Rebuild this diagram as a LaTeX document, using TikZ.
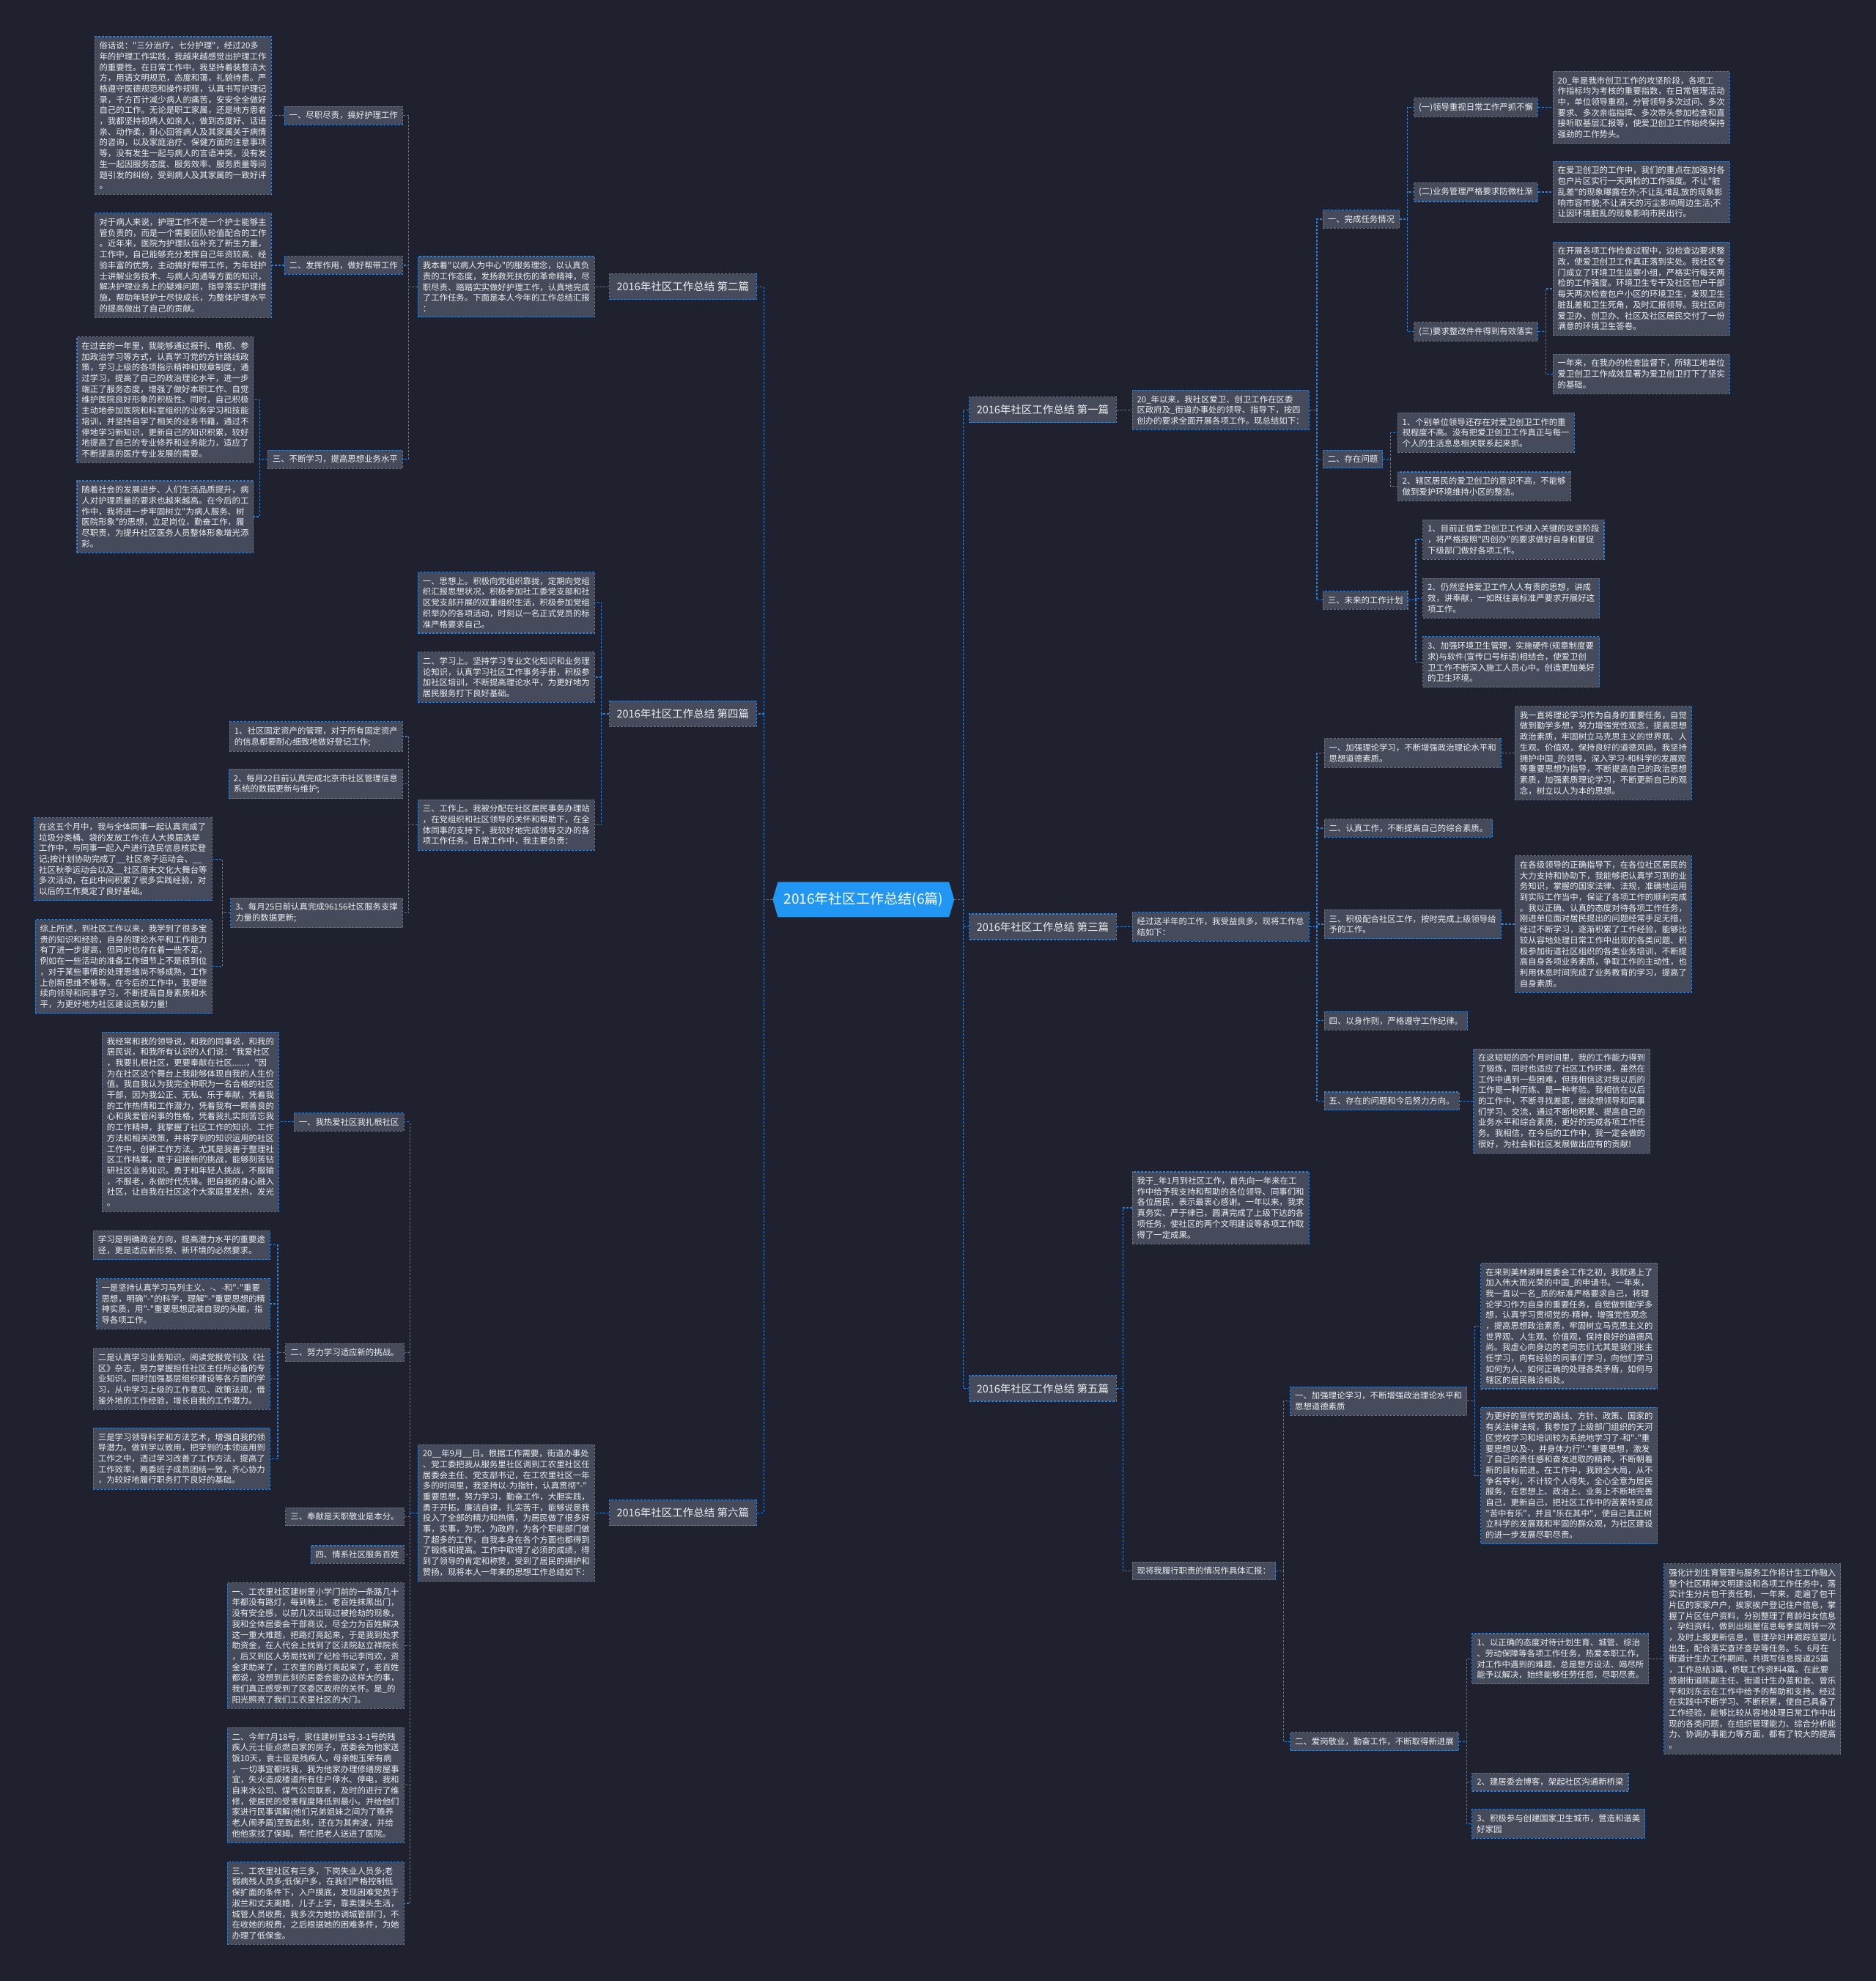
\documentclass[tikz,border=0pt]{standalone}
\usepackage{fontspec}
\usepackage{xcolor}
\usepackage{tikz}
\usetikzlibrary{shapes.symbols}
\newfontfamily\cjk{Noto Sans CJK SC}
\definecolor{bgcolor}{RGB}{31,34,46}
\definecolor{boxcolor}{RGB}{69,75,90}
\definecolor{linecolor}{RGB}{45,130,215}
\definecolor{rootcolor}{RGB}{33,150,243}
\definecolor{txtcolor}{RGB}{238,240,244}

\begin{document}
\begin{tikzpicture}[x=1.7239pt, y=-1.7239pt,
  para/.style={draw=linecolor, dash pattern=on 3pt off 2pt, line width=1.1pt, fill=boxcolor, text=txtcolor, font=\cjk\fontsize{11.4}{14.7}\selectfont, align=left, inner xsep=6.5pt, inner ysep=7pt},
  lpara/.style={para, anchor=east},
  rpara/.style={para, anchor=west},
  topic/.style={para, font=\cjk\fontsize{14.5}{17}\selectfont, inner xsep=10pt, minimum height=35pt},
  rootnode/.style={shape=signal, signal to=east and west, signal pointer angle=147, fill=rootcolor, text=white, font=\cjk\fontsize{19}{22}\selectfont, inner xsep=8pt, minimum height=48pt},
  link/.style={draw=linecolor, dash pattern=on 3pt off 2pt, line width=1.2pt},
]
\fill[bgcolor] (0,0) rectangle (1485,1568);
\useasboundingbox (0,0) rectangle (1485,1568);

% centre
\node[rootnode] (root) at (683.5,712) {2016年社区工作总结(6篇)};

% 第二篇
\node[topic, anchor=east] (b2) at (599,227) {2016年社区工作总结 第二篇};
\node[lpara] (s2) at (471,227) {我本着"以病人为中心"的服务理念，以认真负\\责的工作态度，发扬救死扶伤的革命精神，尽\\职尽责、踏踏实实做好护理工作，认真地完成\\了工作任务。下面是本人今年的工作总结汇报\\：};
\node[lpara] (s2a) at (319,91.5) {一、尽职尽责，搞好护理工作};
\node[lpara] (s2b) at (319,210) {二、发挥作用，做好帮带工作};
\node[lpara] (s2c) at (319,363.5) {三、不断学习，提高思想业务水平};
\node[lpara] (t2a) at (215,91.5) {俗话说："三分治疗，七分护理"，经过20多\\年的护理工作实践，我越来越感觉出护理工作\\的重要性。在日常工作中，我坚持着装整洁大\\方，用语文明规范，态度和蔼，礼貌待患。严\\格遵守医德规范和操作规程，认真书写护理记\\录，千方百计减少病人的痛苦，安安全全做好\\自己的工作。无论是职工家属，还是地方患者\\，我都坚持视病人如亲人，做到态度好、话语\\亲、动作柔，耐心回答病人及其家属关于病情\\的咨询，以及家庭治疗、保健方面的注意事项\\等，没有发生一起与病人的言语冲突，没有发\\生一起因服务态度、服务效率、服务质量等问\\题引发的纠纷，受到病人及其家属的一致好评\\。};
\node[lpara] (t2b) at (215,210) {对于病人来说，护理工作不是一个护士能够主\\管负责的，而是一个需要团队轮值配合的工作\\。近年来，医院为护理队伍补充了新生力量，\\工作中，自己能够充分发挥自己年资较高、经\\验丰富的优势，主动搞好帮带工作，为年轻护\\士讲解业务技术、与病人沟通等方面的知识，\\解决护理业务上的疑难问题，指导落实护理措\\施，帮助年轻护士尽快成长，为整体护理水平\\的提高做出了自己的贡献。};
\node[lpara] (t2c) at (201,316.5) {在过去的一年里，我能够通过报刊、电视、参\\加政治学习等方式，认真学习党的方针路线政\\策，学习上级的各项指示精神和规章制度，通\\过学习，提高了自己的政治理论水平，进一步\\端正了服务态度，增强了做好本职工作、自觉\\维护医院良好形象的积极性。同时，自己积极\\主动地参加医院和科室组织的业务学习和技能\\培训，并坚持自学了相关的业务书籍，通过不\\停地学习新知识，更新自己的知识积累，较好\\地提高了自己的专业修养和业务能力，适应了\\不断提高的医疗专业发展的需要。};
\node[lpara] (t2d) at (201,409) {随着社会的发展进步、人们生活品质提升，病\\人对护理质量的要求也越来越高。在今后的工\\作中，我将进一步牢固树立"为病人服务、树\\医院形象"的思想，立足岗位，勤奋工作，履\\尽职责，为提升社区医务人员整体形象增光添\\彩。};

% 第四篇
\node[topic, anchor=east] (b4) at (599,565) {2016年社区工作总结 第四篇};
\node[lpara] (s4a) at (471,477) {一、思想上。积极向党组织靠拢，定期向党组\\织汇报思想状况，积极参加社工委党支部和社\\区党支部开展的双重组织生活，积极参加党组\\织举办的各项活动，时刻以一名正式党员的标\\准严格要求自己。};
\node[lpara] (s4b) at (471,536) {二、学习上。坚持学习专业文化知识和业务理\\论知识，认真学习社区工作事务手册，积极参\\加社区培训，不断提高理论水平，为更好地为\\居民服务打下良好基础。};
\node[lpara] (s4c) at (471,653) {三、工作上。我被分配在社区居民事务办理站\\，在党组织和社区领导的关怀和帮助下，在全\\体同事的支持下，我较好地完成领导交办的各\\项工作任务。日常工作中，我主要负责：};
\node[lpara] (i4a) at (319,583) {1、社区固定资产的管理，对于所有固定资产\\的信息都要耐心细致地做好登记工作;};
\node[lpara] (i4b) at (319,620.5) {2、每月22日前认真完成北京市社区管理信息\\系统的数据更新与维护;};
\node[lpara] (i4c) at (319,722.5) {3、每月25日前认真完成96156社区服务支撑\\力量的数据更新;};
\node[lpara] (t4a) at (168,680) {在这五个月中，我与全体同事一起认真完成了\\垃圾分类桶、袋的发放工作;在人大换届选举\\工作中，与同事一起入户进行选民信息核实登\\记;按计划协助完成了\_\_社区亲子运动会、\_\_\\社区秋季运动会以及\_\_社区周末文化大舞台等\\多次活动，在此中间积累了很多实践经验，对\\以后的工作奠定了良好基础。};
\node[lpara] (t4b) at (168,765) {综上所述，到社区工作以来，我学到了很多宝\\贵的知识和经验，自身的理论水平和工作能力\\有了进一步提高，但同时也存在着一些不足，\\例如在一些活动的准备工作细节上不是很到位\\，对于某些事情的处理思维尚不够成熟，工作\\上创新思维不够等。在今后的工作中，我要继\\续向领导和同事学习，不断提高自身素质和水\\平，为更好地为社区建设贡献力量!};

% 第六篇
\node[topic, anchor=east] (b6) at (599,1197.5) {2016年社区工作总结 第六篇};
\node[lpara] (s6) at (471,1197.5) {20\_\_年9月\_\_日。根据工作需要，街道办事处\\、党工委把我从服务里社区调到工农里社区任\\居委会主任、党支部书记，在工农里社区一年\\多的时间里，我坚持以-为指针，认真贯彻"-"\\重要思想，努力学习，勤奋工作，大胆实践，\\勇于开拓，廉洁自律，扎实苦干，能够说是我\\投入了全部的精力和热情，为居民做了很多好\\事，实事，为党，为政府，为各个职能部门做\\了超多的工作，自我本身在各个方面也都得到\\了锻炼和提高。工作中取得了必须的成绩，得\\到了领导的肯定和称赞，受到了居民的拥护和\\赞扬，现将本人一年来的思想工作总结如下：};
\node[lpara] (s6a) at (320,888) {一、我热爱社区我扎根社区};
\node[lpara] (s6b) at (320,1070.5) {二、努力学习适应新的挑战。};
\node[lpara] (s6c) at (320,1200.5) {三、奉献是天职敬业是本分。};
\node[lpara] (s6d) at (320,1230.5) {四、情系社区服务百姓};
\node[lpara] (s6e) at (320,1302.5) {一、工农里社区建树里小学门前的一条路几十\\年都没有路灯，每到晚上，老百姓抹黑出门，\\没有安全感，以前几次出现过被抢劫的现象，\\我和全体居委会干部商议，尽全力为百姓解决\\这一重大难题，把路灯亮起来，于是我到处求\\助资金，在人代会上找到了区法院赵立祥院长\\，后又到区人劳局找到了纪检书记李同欢，资\\金求助来了，工农里的路灯亮起来了，老百姓\\都说，没想到此刻的居委会能办这样大的事，\\我们真正感受到了区委区政府的关怀。是\_的\\阳光照亮了我们工农里社区的大门。};
\node[lpara] (s6f) at (320,1413) {二、今年7月18号，家住建树里33-3-1号的残\\疾人元士臣点燃自家的房子，居委会为他家送\\饭10天，袁士臣是残疾人，母亲鲍玉荣有病\\，一切事宜都找我，我为他家办理修缮房屋事\\宜，失火造成楼道所有住户停水、停电，我和\\自来水公司、煤气公司联系，及时的进行了维\\修，使居民的受害程度降低到最小。并给他们\\家进行民事调解(他们兄弟姐妹之间为了赡养\\老人闹矛盾)至致此刻，还在为其奔波，并给\\他他家找了保姆。帮忙把老人送进了医院。};
\node[lpara] (s6g) at (320,1506.5) {三、工农里社区有三多，下岗失业人员多;老\\弱病残人员多;低保户多，在我们严格控制低\\保扩面的条件下，入户摸底，发现困难党员于\\淑兰和丈夫离婚，儿子上学，靠卖馒头生活，\\城管人员收费，我多次为她协调城管部门，不\\在收她的税费，之后根据她的困难条件，为她\\办理了低保金。};
\node[lpara] (t6a) at (221,888) {我经常和我的领导说，和我的同事说，和我的\\居民说，和我所有认识的人们说："我爱社区\\，我要扎根社区，更要奉献在社区......，"因\\为在社区这个舞台上我能够体现自我的人生价\\值。我自我认为我完全称职为一名合格的社区\\干部，因为我公正、无私、乐于奉献，凭着我\\的工作热情和工作潜力，凭着我有一颗善良的\\心和我爱管闲事的性格，凭着我扎实刻苦忘我\\的工作精神，我掌握了社区工作的知识、工作\\方法和相关政策，并将学到的知识运用的社区\\工作中，创新工作方法。尤其是我善于整理社\\区工作档案，敢于迎接新的挑战，能够刻苦钻\\研社区业务知识。勇于和年轻人挑战，不服输\\，不服老，永做时代先锋。把自我的身心融入\\社区，让自我在社区这个大家庭里发热，发光\\。};
\node[lpara] (t6b) at (214,985.5) {学习是明确政治方向，提高潜力水平的重要途\\径，更是适应新形势、新环境的必然要求。};
\node[lpara] (t6c) at (214,1032) {一是坚持认真学习马列主义、-、-和"-"重要\\思想，明确"-"的科学，理解"-"重要思想的精\\神实质，用"-"重要思想武装自我的头脑，指\\导各项工作。};
\node[lpara] (t6d) at (214,1091.5) {二是认真学习业务知识。阅读党报党刊及《社\\区》杂志，努力掌握担任社区主任所必备的专\\业知识。同时加强基层组织建设等各方面的学\\习，从中学习上级的工作意见、政策法规，借\\鉴外地的工作经验，增长自我的工作潜力。};
\node[lpara] (t6e) at (214,1154.5) {三是学习领导科学和方法艺术，增强自我的领\\导潜力。做到学以致用，把学到的本领运用到\\工作之中，透过学习改善了工作方法，提高了\\工作效率，两委班子成员团结一致，齐心协力\\，为较好地履行职务打下良好的基础。};

% 第一篇
\node[topic, anchor=west] (b1) at (767,324.5) {2016年社区工作总结 第一篇};
\node[rpara] (s1) at (896,324.5) {20\_年以来，我社区爱卫、创卫工作在区委\\区政府及\_街道办事处的领导、指导下，按四\\创办的要求全面开展各项工作。现总结如下：};
\node[rpara] (s1a) at (1047,173.5) {一、完成任务情况};
\node[rpara] (s1b) at (1047,363.5) {二、存在问题};
\node[rpara] (s1c) at (1047,475) {三、未来的工作计划};
\node[rpara] (g1) at (1119,85) {(一)领导重视日常工作严抓不懈};
\node[rpara] (g2) at (1119,152) {(二)业务管理严格要求防微杜渐};
\node[rpara] (g3) at (1119,262.5) {(三)要求整改件件得到有效落实};
\node[rpara] (a1) at (1229,85) {20\_年是我市创卫工作的攻坚阶段，各项工\\作指标均为考核的重要指数，在日常管理活动\\中，单位领导重视，分管领导多次过问、多次\\要求、多次亲临指挥、多次带头参加检查和直\\接听取基层汇报等，使爱卫创卫工作始终保持\\强劲的工作势头。};
\node[rpara] (a2) at (1229,152) {在爱卫创卫的工作中，我们的重点在加强对各\\包户片区实行一天两检的工作强度。不让"脏\\乱差"的现象曝露在外;不让乱堆乱放的现象影\\响市容市貌;不让满天的污尘影响周边生活;不\\让因环境脏乱的现象影响市民出行。};
\node[rpara] (a3) at (1229,228.5) {在开展各项工作检查过程中，边检查边要求整\\改，使爱卫创卫工作真正落到实处。我社区专\\门成立了环境卫生监察小组，严格实行每天两\\检的工作强度。环境卫生专干及社区包户干部\\每天两次检查包户小区的环境卫生，发现卫生\\脏乱差和卫生死角，及时汇报领导。我社区向\\爱卫办、创卫办、社区及社区居民交付了一份\\满意的环境卫生答卷。};
\node[rpara] (a4) at (1229,296) {一年来，在我办的检查监督下，所辖工地单位\\爱卫创卫工作成效显著为爱卫创卫打下了坚实\\的基础。};
\node[rpara] (c1a) at (1106,342.5) {1、个别单位领导还存在对爱卫创卫工作的重\\视程度不高。没有把爱卫创卫工作真正与每一\\个人的生活息息相关联系起来抓。};
\node[rpara] (c1b) at (1106,385) {2、辖区居民的爱卫创卫的意识不高，不能够\\做到爱护环境维持小区的整洁。};
\node[rpara] (p1a) at (1126,427) {1、目前正值爱卫创卫工作进入关键的攻坚阶段\\，将严格按照"四创办"的要求做好自身和督促\\下级部门做好各项工作。};
\node[rpara] (p1b) at (1126,473.5) {2、仍然坚持爱卫工作人人有责的思想，讲成\\效，讲奉献，一如既往高标准严要求开展好这\\项工作。};
\node[rpara] (p1c) at (1126,524) {3、加强环境卫生管理，实施硬件(规章制度要\\求)与软件(宣传口号标语)相结合，使爱卫创\\卫工作不断深入施工人员心中。创造更加美好\\的卫生环境。};

% 第三篇
\node[topic, anchor=west] (b3) at (767,733.5) {2016年社区工作总结 第三篇};
\node[rpara] (s3) at (896,733.5) {经过这半年的工作，我受益良多，现将工作总\\结如下：};
\node[rpara] (s3a) at (1048,596) {一、加强理论学习，不断增强政治理论水平和\\思想道德素质。};
\node[rpara] (s3b) at (1048,655.5) {二、认真工作，不断提高自己的综合素质。};
\node[rpara] (s3c) at (1048,731.5) {三、积极配合社区工作，按时完成上级领导给\\予的工作。};
\node[rpara] (s3d) at (1048,808) {四、以身作则，严格遵守工作纪律。};
\node[rpara] (s3e) at (1048,871.5) {五、存在的问题和今后努力方向。};
\node[rpara] (d3a) at (1199,596) {我一直将理论学习作为自身的重要任务，自觉\\做到勤学多想，努力增强党性观念，提高思想\\政治素质，牢固树立马克思主义的世界观、人\\生观、价值观，保持良好的道德风尚。我坚持\\拥护中国\_的领导，深入学习-和科学的发展观\\等重要思想为指导，不断提高自己的政治思想\\素质，加强素质理论学习，不断更新自己的观\\念，树立以人为本的思想。};
\node[rpara] (d3c) at (1199,731.5) {在各级领导的正确指导下，在各位社区居民的\\大力支持和协助下，我能够把认真学习到的业\\务知识，掌握的国家法律、法规，准确地运用\\到实际工作当中，保证了各项工作的顺利完成\\。我以正确、认真的态度对待各项工作任务，\\刚进单位面对居民提出的问题经常手足无措，\\经过不断学习，逐渐积累了工作经验，能够比\\较从容地处理日常工作中出现的各类问题、积\\极参加街道社区组织的各类业务培训，不断提\\高自身各项业务素质，争取工作的主动性，也\\利用休息时间完成了业务教育的学习，提高了\\自身素质。};
\node[rpara] (d3e) at (1166,871.5) {在这短短的四个月时间里，我的工作能力得到\\了锻炼，同时也适应了社区工作环境，虽然在\\工作中遇到一些困难，但我相信这对我以后的\\工作是一种历练、是一种考验。我相信在以后\\的工作中，不断寻找差距，继续想领导和同事\\们学习、交流，通过不断地积累、提高自己的\\业务水平和综合素质，更好的完成各项工作任\\务。我相信，在今后的工作中，我一定会做的\\很好，为社会和社区发展做出应有的贡献!};

% 第五篇
\node[topic, anchor=west] (b5) at (767,1099) {2016年社区工作总结 第五篇};
\node[rpara] (s5) at (896,956) {我于\_年1月到社区工作，首先向一年来在工\\作中给予我支持和帮助的各位领导、同事们和\\各位居民，表示最衷心感谢。一年以来，我求\\真务实、严于律已，圆满完成了上级下达的各\\项任务，使社区的两个文明建设等各项工作取\\得了一定成果。};
\node[rpara] (w5) at (896,1243.5) {现将我履行职责的情况作具体汇报：};
\node[rpara] (w5a) at (1021,1109) {一、加强理论学习，不断增强政治理论水平和\\思想道德素质};
\node[rpara] (w5b) at (1021,1378.5) {二、爱岗敬业，勤奋工作，不断取得新进展};
\node[rpara] (e5a) at (1172,1049.5) {在来到美林湖畔居委会工作之初，我就递上了\\加入伟大而光荣的中国\_的申请书。一年来，\\我一直以一名\_员的标准严格要求自己，将理\\论学习作为自身的重要任务，自觉做到勤学多\\想，认真学习贯彻党的-精神，增强党性观念\\，提高思想政治素质，牢固树立马克思主义的\\世界观、人生观、价值观，保持良好的道德风\\尚。我虚心向身边的老同志们尤其是我们张主\\任学习，向有经验的同事们学习，向他们学习\\如何为人、如何正确的处理各类矛盾，如何与\\辖区的居民融洽相处。};
\node[rpara] (e5b) at (1172,1168) {为更好的宣传党的路线、方针、政策、国家的\\有关法律法规，我参加了上级部门组织的天河\\区党校学习和培训较为系统地学习了-和"-"重\\要思想以及-，并身体力行"-"重要思想，激发\\了自己的责任感和奋发进取的精神，不断朝着\\新的目标前进。在工作中，我顾全大局，从不\\争名夺利，不计较个人得失，全心全意为居民\\服务，在思想上、政治上、业务上不断地完善\\自己，更新自己，把社区工作中的苦累转变成\\"苦中有乐"，并且"乐在其中"，使自己真正树\\立科学的发展观和牢固的群众观，为社区建设\\的进一步发展尽职尽责。};
\node[rpara] (f5a) at (1165,1313) {1、以正确的态度对待计划生育、城管、综治\\、劳动保障等各项工作任务，热爱本职工作，\\对工作中遇到的难题，总是想方设法、竭尽所\\能予以解决，始终能够任劳任怨，尽职尽责。};
\node[rpara] (f5b) at (1165,1410.5) {2、建居委会博客，架起社区沟通新桥梁};
\node[rpara] (f5c) at (1165,1443.5) {3、积极参与创建国家卫生城市，营造和谐美\\好家园};
\node[rpara] (h5) at (1317,1313) {强化计划生育管理与服务工作将计生工作融入\\整个社区精神文明建设和各项工作任务中，落\\实计生分片包干责任制，一年来，走遍了包干\\片区的家家户户，挨家挨户登记住户信息，掌\\握了片区住户资料，分别整理了育龄妇女信息\\，孕妇资料，做到出租屋信息每季度周转一次\\，及时上报更新信息，管理孕妇并跟踪至婴儿\\出生，配合落实查环查孕等任务。5、6月在\\街道计生办工作期间，共撰写信息报道25篇\\，工作总结3篇，侨联工作资料4篇。在此要\\感谢街道陈副主任、街道计生办蓝和金、曾乐\\平和刘东云在工作中给予的帮助和支持。经过\\在实践中不断学习、不断积累，使自己具备了\\工作经验，能够比较从容地处理日常工作中出\\现的各类问题，在组织管理能力、综合分析能\\力、协调办事能力等方面，都有了较大的提高\\。};

% links, left side
\draw[link] (root.west) -- ++(-7,0) |- (b2.east); \draw[link] (root.west) -- ++(-7,0) |- (b4.east); \draw[link] (root.west) -- ++(-7,0) |- (b6.east);
\draw[link] (b2.west) -- ++(-6,0) |- (s2.east);
\draw[link] (s2.west) -- ++(-7,0) |- (s2a.east); \draw[link] (s2.west) -- ++(-7,0) |- (s2b.east); \draw[link] (s2.west) -- ++(-7,0) |- (s2c.east);
\draw[link] (s2a.west) -- ++(-5,0) |- (t2a.east); \draw[link] (s2b.west) -- ++(-5,0) |- (t2b.east);
\draw[link] (s2c.west) -- ++(-6,0) |- (t2c.east); \draw[link] (s2c.west) -- ++(-6,0) |- (t2d.east);
\draw[link] (b4.west) -- ++(-6,0) |- (s4a.east); \draw[link] (b4.west) -- ++(-6,0) |- (s4b.east); \draw[link] (b4.west) -- ++(-6,0) |- (s4c.east);
\draw[link] (s4c.west) -- ++(-7,0) |- (i4a.east); \draw[link] (s4c.west) -- ++(-7,0) |- (i4b.east); \draw[link] (s4c.west) -- ++(-7,0) |- (i4c.east);
\draw[link] (i4c.west) -- ++(-6,0) |- (t4a.east); \draw[link] (i4c.west) -- ++(-6,0) |- (t4b.east);
\draw[link] (b6.west) -- ++(-6,0) |- (s6.east);
\draw[link] (s6.west) -- ++(-6,0) |- (s6a.east); \draw[link] (s6.west) -- ++(-6,0) |- (s6b.east); \draw[link] (s6.west) -- ++(-6,0) |- (s6c.east);
\draw[link] (s6.west) -- ++(-6,0) |- (s6d.east); \draw[link] (s6.west) -- ++(-6,0) |- (s6e.east); \draw[link] (s6.west) -- ++(-6,0) |- (s6f.east);
\draw[link] (s6.west) -- ++(-6,0) |- (s6g.east);
\draw[link] (s6a.west) -- ++(-6,0) |- (t6a.east);
\draw[link] (s6b.west) -- ++(-6,0) |- (t6b.east); \draw[link] (s6b.west) -- ++(-6,0) |- (t6c.east);
\draw[link] (s6b.west) -- ++(-6,0) |- (t6d.east); \draw[link] (s6b.west) -- ++(-6,0) |- (t6e.east);

% links, right side
\draw[link] (root.east) -- ++(7,0) |- (b1.west); \draw[link] (root.east) -- ++(7,0) |- (b3.west); \draw[link] (root.east) -- ++(7,0) |- (b5.west);
\draw[link] (b1.east) -- ++(6,0) |- (s1.west);
\draw[link] (s1.east) -- ++(6,0) |- (s1a.west); \draw[link] (s1.east) -- ++(6,0) |- (s1b.west); \draw[link] (s1.east) -- ++(6,0) |- (s1c.west);
\draw[link] (s1a.east) -- ++(6,0) |- (g1.west); \draw[link] (s1a.east) -- ++(6,0) |- (g2.west); \draw[link] (s1a.east) -- ++(6,0) |- (g3.west);
\draw[link] (g1.east) -- ++(6,0) |- (a1.west); \draw[link] (g2.east) -- ++(6,0) |- (a2.west);
\draw[link] (g3.east) -- ++(6,0) |- (a3.west); \draw[link] (g3.east) -- ++(6,0) |- (a4.west);
\draw[link] (s1b.east) -- ++(6,0) |- (c1a.west); \draw[link] (s1b.east) -- ++(6,0) |- (c1b.west);
\draw[link] (s1c.east) -- ++(6,0) |- (p1a.west); \draw[link] (s1c.east) -- ++(6,0) |- (p1b.west); \draw[link] (s1c.east) -- ++(6,0) |- (p1c.west);
\draw[link] (b3.east) -- ++(6,0) |- (s3.west);
\draw[link] (s3.east) -- ++(6,0) |- (s3a.west); \draw[link] (s3.east) -- ++(6,0) |- (s3b.west); \draw[link] (s3.east) -- ++(6,0) |- (s3c.west);
\draw[link] (s3.east) -- ++(6,0) |- (s3d.west); \draw[link] (s3.east) -- ++(6,0) |- (s3e.west);
\draw[link] (s3a.east) -- ++(6,0) |- (d3a.west); \draw[link] (s3c.east) -- ++(6,0) |- (d3c.west); \draw[link] (s3e.east) -- ++(6,0) |- (d3e.west);
\draw[link] (b5.east) -- ++(5,0) |- (s5.west); \draw[link] (b5.east) -- ++(5,0) |- (w5.west);
\draw[link] (w5.east) -- ++(6,0) |- (w5a.west); \draw[link] (w5.east) -- ++(6,0) |- (w5b.west);
\draw[link] (w5a.east) -- ++(6,0) |- (e5a.west); \draw[link] (w5a.east) -- ++(6,0) |- (e5b.west);
\draw[link] (w5b.east) -- ++(6,0) |- (f5a.west); \draw[link] (w5b.east) -- ++(6,0) |- (f5b.west); \draw[link] (w5b.east) -- ++(6,0) |- (f5c.west);
\draw[link] (f5a.east) -- ++(6,0) |- (h5.west);
\end{tikzpicture}
\end{document}
